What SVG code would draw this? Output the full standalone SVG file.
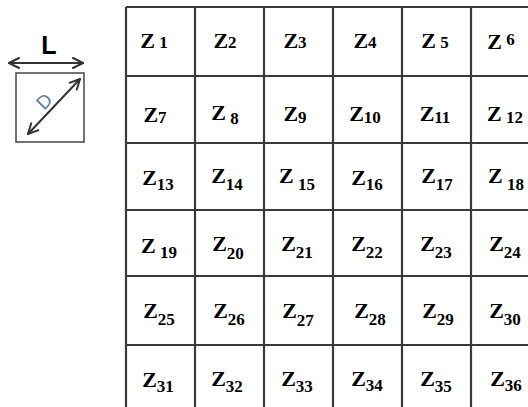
<svg xmlns="http://www.w3.org/2000/svg" width="528" height="407" viewBox="0 0 528 407">
<defs>
<style>
.grid{stroke:#3a3a3a;stroke-width:2.2;fill:none}
.z{font-family:"Liberation Serif",serif;font-weight:bold;font-size:22px;fill:#000}
.n{font-size:17px}
.arr{stroke:#333;stroke-width:2;fill:none;stroke-linecap:round;stroke-linejoin:round}
</style>
<marker id="ah" viewBox="0 0 12 12" refX="11" refY="6" markerWidth="12" markerHeight="12" markerUnits="userSpaceOnUse" orient="auto-start-reverse">
<path d="M1,1 L11,6 L1,11" fill="none" stroke="#333" stroke-width="2" stroke-linecap="round" stroke-linejoin="round"/>
</marker>
</defs>
<rect width="528" height="407" fill="#fff"/>
<g id="legend">
<text x="49" y="54" text-anchor="middle" font-family="Liberation Sans,sans-serif" font-weight="bold" font-size="25" fill="#000">L</text>
<line class="arr" x1="9" y1="63" x2="83" y2="63" marker-start="url(#ah)" marker-end="url(#ah)"/>
<rect x="16" y="73" width="68" height="69" fill="#fff" stroke="#444" stroke-width="1.5"/>
<line class="arr" x1="28" y1="134" x2="80" y2="79" marker-start="url(#ah)" marker-end="url(#ah)"/>
<text x="44" y="108" text-anchor="middle" font-family="Liberation Sans,sans-serif" font-size="19" fill="#5b7ea6" transform="rotate(-45 44 101)">D</text>
</g>
<g id="connectors">
<path class="grid" d="M126,7 V410 M195,7 V410 M264,7 V410 M333,7 V410 M402,7 V410 M471,7 V410 M126,7 H530 M126,76 H530 M126,143 H530 M126,210 H530 M126,276 H530 M126,345 H530"/>
</g>
<g id="row1" class="z">
<text x="154" y="48" text-anchor="middle">Z<tspan class="n"> 1</tspan></text>
<text x="225" y="48" text-anchor="middle">Z<tspan class="n">2</tspan></text>
<text x="295" y="48" text-anchor="middle">Z<tspan class="n">3</tspan></text>
<text x="365" y="48" text-anchor="middle">Z<tspan class="n">4</tspan></text>
<text x="435" y="48" text-anchor="middle">Z<tspan class="n"> 5</tspan></text>
<text x="501" y="49" text-anchor="middle">Z<tspan class="n" dy="-4"> 6</tspan></text>
</g>
<g id="row2" class="z">
<text x="155" y="122" text-anchor="middle">Z<tspan class="n" dy="1">7</tspan></text>
<text x="225" y="120" text-anchor="middle">Z<tspan class="n" dy="4"> 8</tspan></text>
<text x="295" y="121" text-anchor="middle">Z<tspan class="n" dy="2">9</tspan></text>
<text x="365" y="121" text-anchor="middle">Z<tspan class="n" dy="2">10</tspan></text>
<text x="435" y="121" text-anchor="middle">Z<tspan class="n" dy="2">11</tspan></text>
<text x="505" y="121" text-anchor="middle">Z<tspan class="n" dy="2"> 12</tspan></text>
</g>
<g id="row3" class="z">
<text x="158" y="185" text-anchor="middle">Z<tspan class="n" dy="5">13</tspan></text>
<text x="227" y="183" text-anchor="middle">Z<tspan class="n" dy="7">14</tspan></text>
<text x="297" y="183" text-anchor="middle">Z<tspan class="n" dy="7"> 15</tspan></text>
<text x="367" y="185" text-anchor="middle">Z<tspan class="n" dy="5">16</tspan></text>
<text x="437" y="183" text-anchor="middle">Z<tspan class="n" dy="7">17</tspan></text>
<text x="506" y="183" text-anchor="middle">Z<tspan class="n" dy="7"> 18</tspan></text>
</g>
<g id="row4" class="z">
<text x="159" y="253" text-anchor="middle">Z<tspan class="n" dy="5"> 19</tspan></text>
<text x="228" y="251" text-anchor="middle">Z<tspan class="n" dy="8">20</tspan></text>
<text x="297" y="251" text-anchor="middle">Z<tspan class="n" dy="7">21</tspan></text>
<text x="367" y="251" text-anchor="middle">Z<tspan class="n" dy="7">22</tspan></text>
<text x="436" y="251" text-anchor="middle">Z<tspan class="n" dy="7">23</tspan></text>
<text x="505" y="251" text-anchor="middle">Z<tspan class="n" dy="7">24</tspan></text>
</g>
<g id="row5" class="z">
<text x="159" y="318" text-anchor="middle">Z<tspan class="n" dy="7">25</tspan></text>
<text x="229" y="318" text-anchor="middle">Z<tspan class="n" dy="7">26</tspan></text>
<text x="298" y="318" text-anchor="middle">Z<tspan class="n" dy="8">27</tspan></text>
<text x="370" y="318" text-anchor="middle">Z<tspan class="n" dy="7">28</tspan></text>
<text x="438" y="318" text-anchor="middle">Z<tspan class="n" dy="7">29</tspan></text>
<text x="505" y="318" text-anchor="middle">Z<tspan class="n" dy="7">30</tspan></text>
</g>
<g id="row6" class="z">
<text x="158" y="387" text-anchor="middle">Z<tspan class="n" dy="5">31</tspan></text>
<text x="227" y="386" text-anchor="middle">Z<tspan class="n" dy="6">32</tspan></text>
<text x="297" y="386" text-anchor="middle">Z<tspan class="n" dy="6">33</tspan></text>
<text x="367" y="386" text-anchor="middle">Z<tspan class="n" dy="5">34</tspan></text>
<text x="436" y="386" text-anchor="middle">Z<tspan class="n" dy="6">35</tspan></text>
<text x="506" y="386" text-anchor="middle">Z<tspan class="n" dy="5">36</tspan></text>
</g>
</svg>
